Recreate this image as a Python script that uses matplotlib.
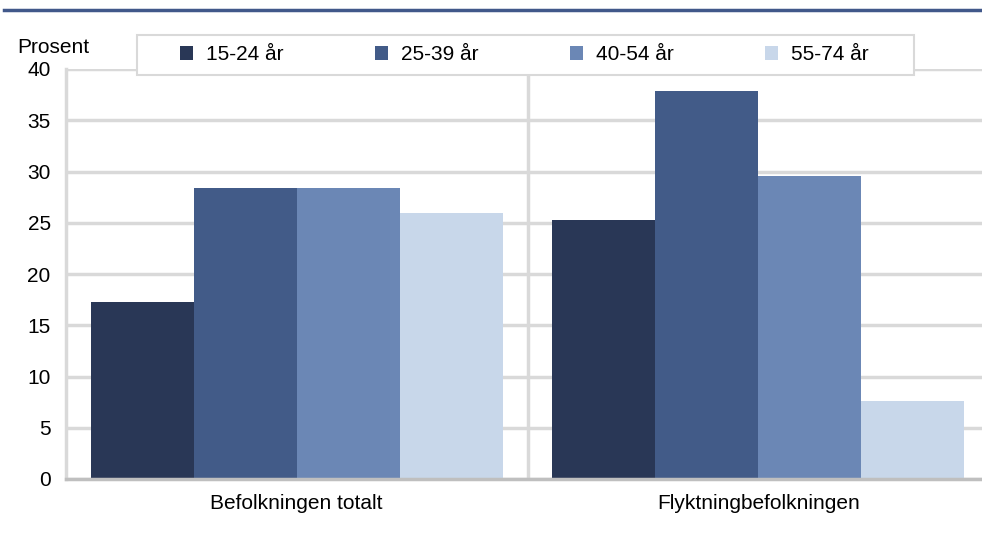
import numpy as np
import matplotlib
matplotlib.use('Agg')
import matplotlib.pyplot as plt
from matplotlib.patches import Rectangle
from matplotlib.lines import Line2D

# ---- data ----
kategorier = ['Befolkningen totalt', 'Flyktningbefolkningen']
aldersgrupper = ['15-24 år', '25-39 år', '40-54 år', '55-74 år']
v_15_24 = [17.3, 25.3]
v_25_39 = [28.4, 37.9]
v_40_54 = [28.4, 29.6]
v_55_74 = [26.0, 7.6]
farger = ['#293756', '#425b88', '#6b87b5', '#c8d7ea']

plt.rcParams['font.family'] = ['Liberation Sans', 'DejaVu Sans']
plt.rcParams['font.size'] = 15

W, H = 982, 533
fig = plt.figure(figsize=(W / 100, H / 100), dpi=100)

# axes position in pixels (left, bottom, right, top)
L, B, R, T = 66, 479, 989, 69
ax = fig.add_axes([L / W, 1 - B / H, (R - L) / W, (B - T) / H])

x = np.arange(len(kategorier))
bw = 0.223
serier = [v_15_24, v_25_39, v_40_54, v_55_74]
for i, (verdier, farge, navn) in enumerate(zip(serier, farger, aldersgrupper)):
    ax.bar(x + (i - 1.5) * bw, verdier, width=bw, color=farge, label=navn,
           zorder=3, linewidth=0)

ax.set_xlim(-0.5, 1.5)
ax.set_ylim(0, 40)
ax.set_yticks(range(0, 41, 5))
ax.set_xticks(x)
ax.set_xticklabels(kategorier)

ax.grid(axis='y', color='#d9d9d9', linewidth=2.5, zorder=0)
ax.axvline(0.5, color='#d9d9d9', linewidth=2.5, zorder=0)
ax.set_axisbelow(True)

for s in ['top', 'right']:
    ax.spines[s].set_visible(False)
ax.spines['left'].set_color('#d9d9d9')
ax.spines['left'].set_linewidth(2.5)
ax.spines['bottom'].set_color('#bfbfbf')
ax.spines['bottom'].set_linewidth(2.5)
ax.spines['bottom'].set_zorder(4)
ax.tick_params(axis='both', length=0, colors='black')
ax.tick_params(axis='y', pad=11)
ax.tick_params(axis='x', pad=11)

# y-axis title
fig.text(17 / W, 1 - 53 / H, 'Prosent', ha='left', va='baseline', fontsize=15)

# top rule
fig.add_artist(Line2D([4 / W, 1], [1 - 10 / H, 1 - 10 / H], color='#41588a',
                      linewidth=2.5))

# legend box
fig.add_artist(Rectangle((137 / W, 1 - 75 / H), (914 - 137) / W, 40 / H,
                         facecolor='white', edgecolor='#d9d9d9',
                         linewidth=1.5, zorder=5))
leg = fig.legend(loc='center left', bbox_to_anchor=(180 / W, 1 - 55 / H),
                 ncol=4, frameon=False, handlelength=0.63, handleheight=0.63,
                 handletextpad=0.63, columnspacing=4.37, borderpad=0,
                 borderaxespad=0, fontsize=15)
leg.set_zorder(6)

fig.savefig('out.png', dpi=100)
